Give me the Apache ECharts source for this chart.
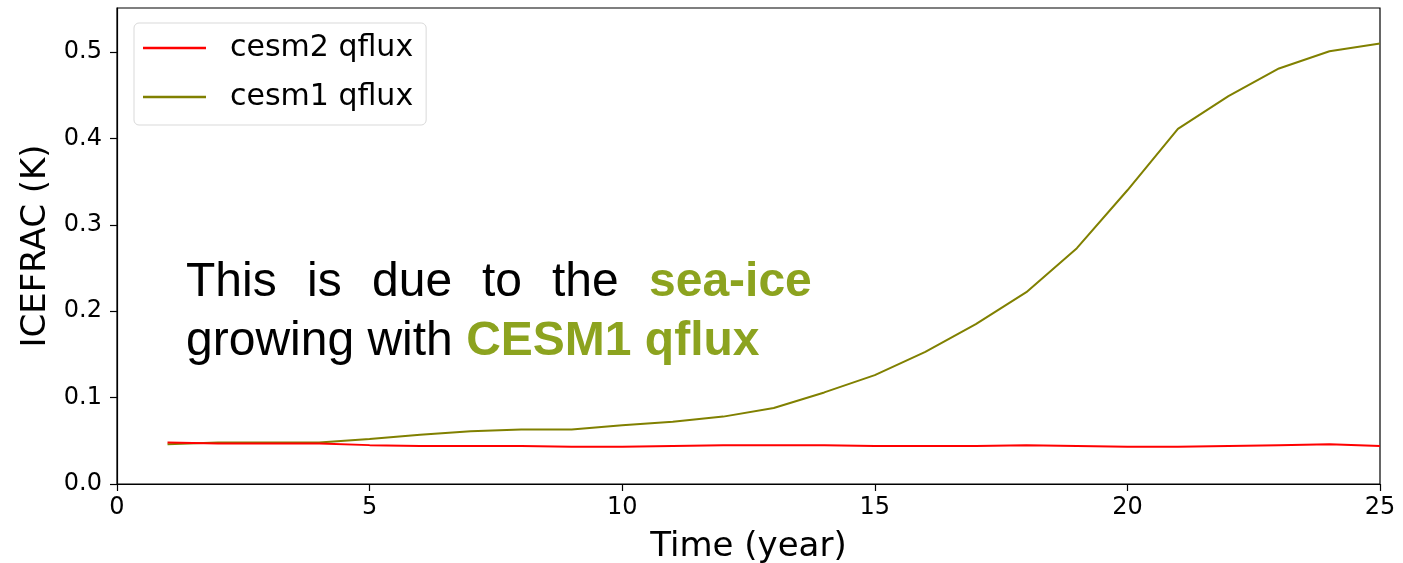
<!DOCTYPE html>
<html>
<head>
<meta charset="utf-8">
<script src="https://cdn.jsdelivr.net/npm/echarts@6/dist/echarts.min.js"></script>
<style>
html,body{margin:0;padding:0;background:#fff;}
#c{width:1403px;height:563px;}
</style>
</head>
<body>
<div id="c"></div>
<script>
const years = [1,2,3,4,5,6,7,8,9,10,11,12,13,14,15,16,17,18,19,20,21,22,23,24,25];
const cesm2 = [0.048,0.047,0.047,0.047,0.045,0.044,0.044,0.044,0.043,0.043,0.044,0.045,0.045,0.045,0.044,0.044,0.044,0.045,0.044,0.043,0.043,0.044,0.045,0.046,0.044];
const cesm1 = [0.046,0.048,0.048,0.048,0.052,0.057,0.061,0.063,0.063,0.068,0.072,0.078,0.088,0.106,0.126,0.153,0.185,0.222,0.273,0.340,0.411,0.449,0.481,0.501,0.510];
const xTicks = [0,5,10,15,20,25];
const yTicks = [0,0.1,0.2,0.3,0.4,0.5];
const seriesNames = ['cesm2 qflux','cesm1 qflux'];

const chart = echarts.init(document.getElementById('c'), null, {renderer:'canvas'});
const FONT = 'DejaVu Sans';
const ANN = 'Liberation Sans';
const OLIVE_TXT = '#8ca31f';

function word(text, x, y, bold, color){
  return {type:'text', left:x, top:y, style:{text:text, fill:color, font:(bold?'bold ':'')+'48px "'+ANN+'"'}};
}

chart.setOption({
  animation:false,
  backgroundColor:'#fff',
  grid:{left:117,right:23,top:8,bottom:79,containLabel:false,outerBoundsMode:'none',show:true,borderColor:'#000',borderWidth:1.2,backgroundColor:'transparent'},
  legend:{
    left:134, top:23, orient:'vertical',
    data:seriesNames,
    icon:'rect', itemWidth:63, itemHeight:2.5, itemGap:15,
    backgroundColor:'#fff', borderColor:'#d9d9d9', borderWidth:1, borderRadius:5,
    padding:[8,13,11,9],
    textStyle:{fontFamily:FONT,fontSize:30,color:'#000',padding:[0,0,0,19],lineHeight:34}
  },
  xAxis:{
    type:'value', min:0, max:25, interval:5,
    name:'Time (year)', nameLocation:'middle', nameGap:46,
    nameTextStyle:{fontFamily:FONT,fontSize:34,color:'#000'},
    axisLine:{show:true,onZero:false,lineStyle:{color:'#000',width:1.2}},
    axisTick:{show:true,inside:false,length:7,lineStyle:{color:'#000',width:1.2},customValues:xTicks},
    axisLabel:{fontFamily:FONT,fontSize:24,color:'#000',margin:12,customValues:xTicks},
    splitLine:{show:false}
  },
  yAxis:{
    type:'value', min:0, max:0.551, interval:0.1,
    name:'ICEFRAC (K)', nameLocation:'middle', nameGap:62,
    nameTextStyle:{fontFamily:FONT,fontSize:34,color:'#000'},
    axisLine:{show:true,onZero:false,lineStyle:{color:'#000',width:1.2}},
    axisTick:{show:true,inside:false,length:7,lineStyle:{color:'#000',width:1.2},customValues:yTicks},
    axisLabel:{fontFamily:FONT,fontSize:24,color:'#000',margin:15,customValues:yTicks,formatter:v=>v.toFixed(1)},
    splitLine:{show:false}
  },
  series:[
    {name:seriesNames[0],type:'line',data:years.map((y,i)=>[y,cesm2[i]]),showSymbol:false,symbol:'none',lineStyle:{color:'#ff0000',width:2},itemStyle:{color:'#ff0000'},z:3},
    {name:seriesNames[1],type:'line',data:years.map((y,i)=>[y,cesm1[i]]),showSymbol:false,symbol:'none',lineStyle:{color:'#808000',width:2},itemStyle:{color:'#808000'},z:2}
  ],
  graphic:[
    word('This',186,259,false,'#000'),
    word('is',307,259,false,'#000'),
    word('due',372,259,false,'#000'),
    word('to',482,259,false,'#000'),
    word('the',552,259,false,'#000'),
    word('sea-ice',649,259,true,OLIVE_TXT),
    {type:'text', left:186, top:318, style:{rich:{n:{font:'48px "'+ANN+'"',fill:'#000'},b:{font:'bold 48px "'+ANN+'"',fill:OLIVE_TXT}}, text:'{n|growing with }{b|CESM1 qflux}'}}
  ]
});
</script>
</body>
</html>
